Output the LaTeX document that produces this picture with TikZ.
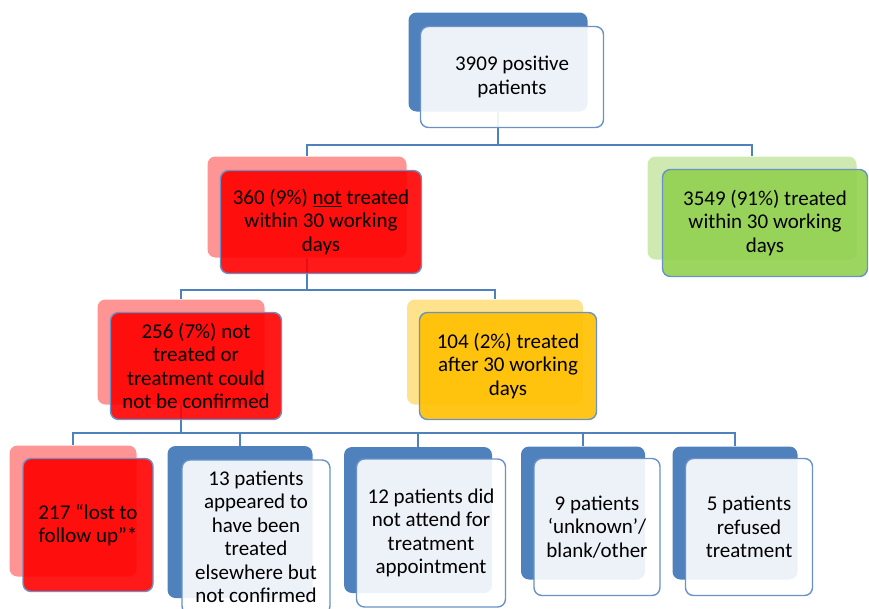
\documentclass[tikz,border=0pt]{standalone}
\usepackage{fontspec}
\setmainfont{Carlito}
\definecolor{officeblue}{HTML}{4F81BD}
\definecolor{frameblue}{HTML}{6A92C8}
\definecolor{leafgreen}{HTML}{92D050}
\definecolor{amber}{HTML}{FFC000}
\tikzstyle{back}=[rounded corners=8pt, inner sep=0pt]
\tikzstyle{blueback}=[back, fill=officeblue]
\tikzstyle{redback}=[back, fill=red!42]
\tikzstyle{greenback}=[back, fill=leafgreen!45]
\tikzstyle{amberback}=[back, fill=amber!45]
\tikzstyle{front}=[rounded corners=8pt, draw=frameblue, line width=1.4pt, inner sep=0pt, align=center, fill opacity=0.9, text opacity=1, font=\fontsize{21}{23.5}\selectfont]
\tikzstyle{bluefront}=[front, fill=white]
\tikzstyle{redfront}=[front, fill=red]
\tikzstyle{greenfront}=[front, fill=leafgreen]
\tikzstyle{amberfront}=[front, fill=amber]
\tikzstyle{link}=[draw=officeblue, line width=1.3pt]

\begin{document}
\begin{tikzpicture}[x=1pt, y=-1pt]
\useasboundingbox (0, 0) rectangle (869, 608);
% shadow boxes
\node[blueback, minimum width=179pt, minimum height=99pt] at (498, 62) (top) {};
\node[redback, minimum width=199pt, minimum height=101pt] at (307, 207) (n360) {};
\node[greenback, minimum width=209pt, minimum height=103pt] at (752, 208) (n3549) {};
\node[redback, minimum width=167pt, minimum height=105pt] at (181, 352) (n256) {};
\node[amberback, minimum width=176pt, minimum height=105pt] at (495, 352) (n104) {};
\node[redback, minimum width=127pt, minimum height=131pt] at (73, 511) (n217) {};
\node[blueback, minimum width=145pt, minimum height=152pt] at (240, 522) (n13) {};
\node[blueback, minimum width=148pt, minimum height=146pt] at (418, 520) (n12) {};
\node[blueback, minimum width=124pt, minimum height=133pt] at (583, 513) (n9) {};
\node[blueback, minimum width=125pt, minimum height=133pt] at (735, 513) (n5) {};
% connectors
\coordinate (j1) at (498, 145);
\coordinate (j2) at (307, 290);
\coordinate (j3) at (181, 433);
\draw[link] (top) -- (j1) -| (n360);
\draw[link] (j1) -| (n3549);
\draw[link] (n360) -- (j2) -| (n256);
\draw[link] (j2) -| (n104);
\draw[link] (n256) -- (j3) -| (n217);
\draw[link] (j3) -| (n13);
\draw[link] (j3) -| (n12);
\draw[link] (j3) -| (n9);
\draw[link] (j3) -| (n5);
% text boxes
\node[bluefront, minimum width=183pt, minimum height=101pt] at (512, 77) (top f) {3909 positive\\patients};
\node[redfront, minimum width=201pt, minimum height=103pt] at (321, 222) (n360 f) {360 (9\%) \underline{not} treated\\within 30 working\\days};
\node[greenfront, minimum width=205pt, minimum height=107pt] at (765, 223) (n3549 f) {3549 (91\%) treated\\within 30 working\\days};
\node[redfront, minimum width=171pt, minimum height=107pt] at (196, 366) (n256 f) {256 (7\%) not\\treated or\\treatment could\\not be confirmed};
\node[amberfront, minimum width=177pt, minimum height=107pt] at (508, 366) (n104 f) {104 (2\%) treated\\after 30 working\\days};
\node[redfront, minimum width=130pt, minimum height=133pt] at (88, 525) (n217 f) {217 “lost to\\follow up”*};
\node[bluefront, minimum width=148pt, minimum height=154pt] at (256, 537) (n13 f) {13 patients\\appeared to\\have been\\treated\\elsewhere but\\not confirmed};
\node[bluefront, minimum width=149pt, minimum height=148pt] at (431, 533) (n12 f) {12 patients did\\not attend for\\treatment\\appointment};
\node[bluefront, minimum width=126pt, minimum height=137pt] at (597, 527) (n9 f) {9 patients\\‘unknown’/\\blank/other};
\node[bluefront, minimum width=127pt, minimum height=137pt] at (749, 527) (n5 f) {5 patients\\refused\\treatment};
\end{tikzpicture}
\end{document}
